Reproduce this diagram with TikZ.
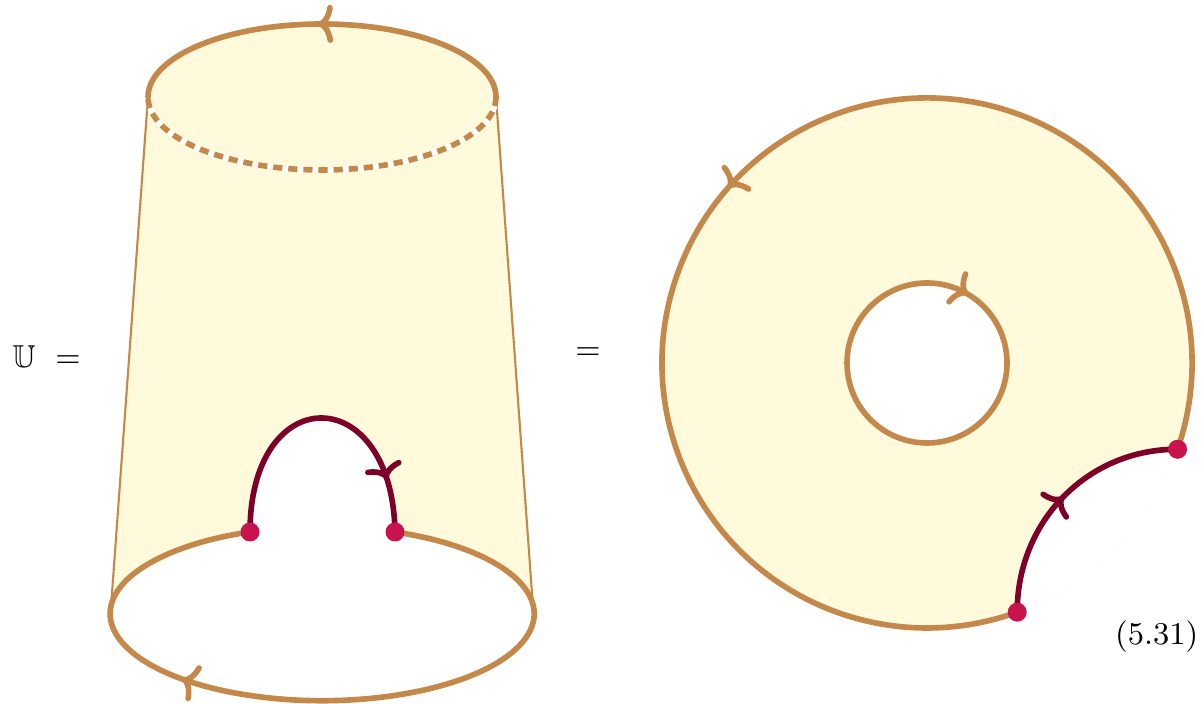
\documentclass[tikz,border=0pt]{standalone}
\usepackage{amsmath,amssymb}
\usetikzlibrary{arrows.meta,decorations.markings,calc}
\definecolor{cedge}{HTML}{C4894A}
\definecolor{cface}{HTML}{FFFADC}
\definecolor{cpt}{HTML}{C8134F}
\definecolor{carc}{HTML}{7D0029}
\tikzset{
  bnd/.style={cedge, line width=1.6pt},
  side/.style={cedge, line width=0.6pt},
  hid/.style={cedge, line width=1.6pt, line cap=butt, dash pattern=on 2.6pt off 1.7pt},
  wht/.style={white, line width=1.6pt, line cap=butt},
  lin/.style={carc, line width=1.6pt},
  pt/.style={circle, fill=cpt, inner sep=0pt, minimum size=1.9mm},
  lbl/.style={inner sep=0pt, font=\fontsize{9}{11}\selectfont},
  mk/.style={postaction={decorate}, decoration={markings, mark=at position #1 with
    {\arrow[line cap=round]{Computer Modern Rightarrow[length=1.5mm,width=3.8mm]}}}}
}

\begin{document}
\begin{tikzpicture}[x=0.01cm, y=0.01cm, line cap=round]
\useasboundingbox (0,0) rectangle (1204,704);

% end points of the arcs
\coordinate (a1) at (250,172);
\coordinate (a2) at (395,172);
\coordinate (b1) at ($(927,341)+(-70.1:265)$);
\coordinate (b2) at ($(927,341)+(-19:265)$);

% cylinder
\fill[cface] (148,607) -- (110,90) -- (534,90) -- (496,607) -- cycle;
\fill[cface] (322,607) ellipse [x radius=174, y radius=73];
\fill[white] (322,90) ellipse [x radius=212, y radius=87];
\fill[white] (a1) .. controls (250,324) and (392,324) .. (a2) -- cycle;
\draw[side] (148,607) -- (111,97);
\draw[side] (496,607) -- (533,97);
\draw[wht] (496,607) arc [start angle=0, end angle=-180, x radius=174, y radius=73];
\draw[hid] (496,607) arc [start angle=0, end angle=-180, x radius=174, y radius=73];
\draw[bnd, mk=0.51] (496,607) arc [start angle=0, end angle=180, x radius=174, y radius=73];
\draw[bnd, mk=0.67] (a2) arc [start angle=69.9, end angle=-250.1, x radius=212, y radius=87];
\draw[lin, mk=0.82] (a1) .. controls (250,324) and (392,324) .. (a2);
\node[pt] (p1) at (a1) {};
\node[pt] (p2) at (a2) {};

% annulus
\fill[cface] (927,341) circle [radius=265];
\fill[white] (927,341) circle [radius=80];
\fill[white] (b1) .. controls (1017,182) and (1087,255) .. (b2)
  arc [start angle=-19, end angle=-70.1, radius=265] -- cycle;
\draw[bnd, mk=0.51] (b2) arc [start angle=-19, end angle=289.9, radius=265];
\draw[bnd, mk=0.335] (847,341) arc [start angle=180, end angle=-180, radius=80];
\draw[lin, mk=0.5] (b1) .. controls (1017,182) and (1087,255) .. (b2);
\node[pt] (p3) at (b1) {};
\node[pt] (p4) at (b2) {};

% labels
\node[lbl, anchor=west] (lhs) at (12,347) {$\mathbb{U}\ =$};
\node[lbl] (eq) at (588,350) {$=$};
\node[lbl, anchor=east] (num) at (1199,67) {(5.31)};
\end{tikzpicture}
\end{document}
